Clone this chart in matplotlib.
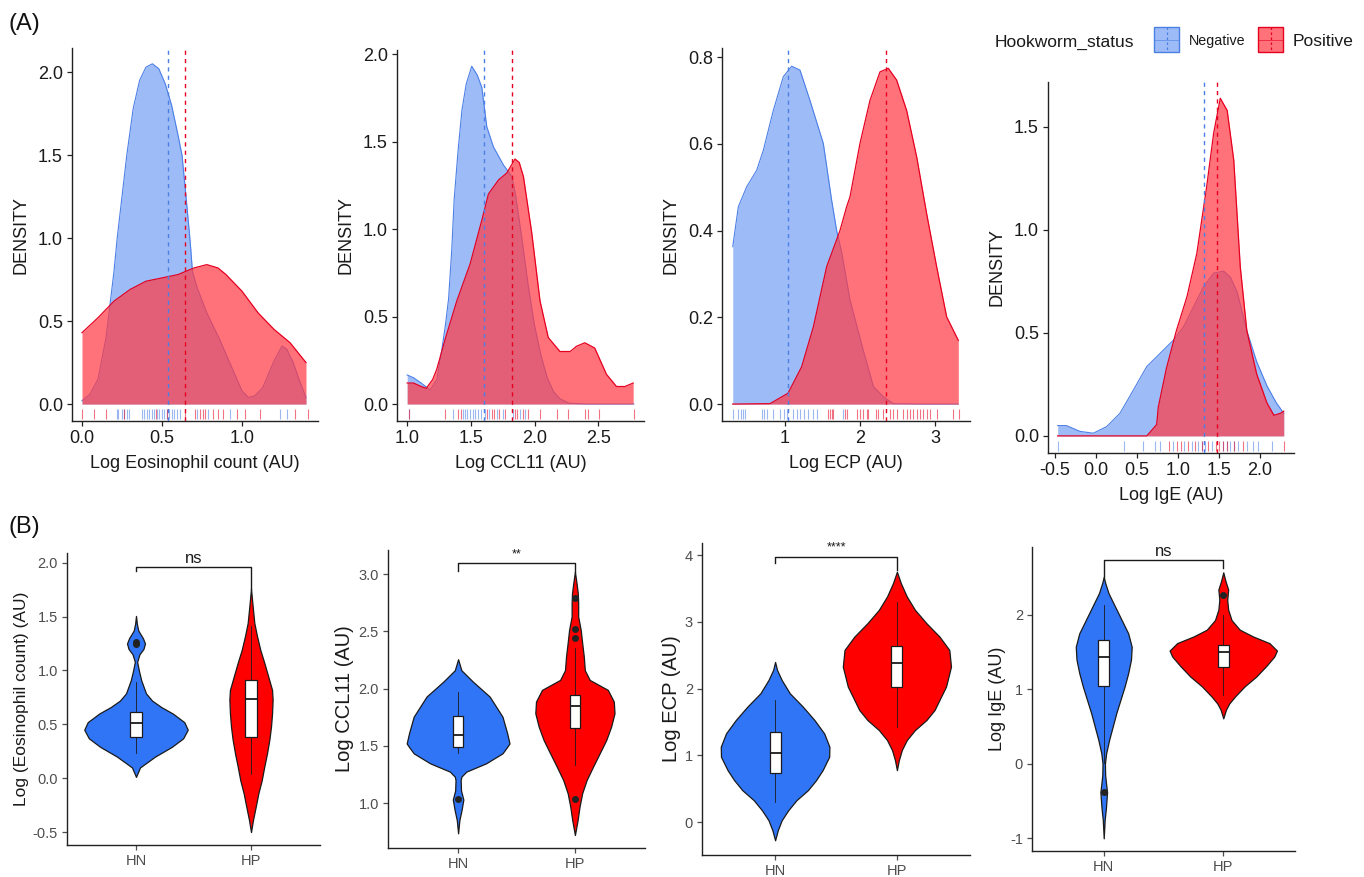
import matplotlib
matplotlib.use("Agg")
import matplotlib.pyplot as plt
from matplotlib.patches import Rectangle

plt.rcParams['font.family'] = ['Liberation Sans', 'DejaVu Sans']
plt.rcParams['axes.unicode_minus'] = False

# ---------------- (A) density curves ----------------
eos_neg_x = [0.0, 0.05, 0.1, 0.12, 0.15, 0.175, 0.2, 0.22, 0.25, 0.28, 0.32, 0.36, 0.40, 0.44, 0.48,
             0.52, 0.56, 0.60, 0.625, 0.65, 0.675, 0.68, 0.69, 0.72, 0.78, 0.86, 0.95, 1.0, 1.04,
             1.08, 1.13, 1.2, 1.25, 1.28, 1.32, 1.36, 1.40]
eos_neg_y = [0.02, 0.06, 0.15, 0.25, 0.40, 0.60, 0.80, 1.0, 1.25, 1.5, 1.78, 1.95, 2.03, 2.05, 2.02,
             1.93, 1.8, 1.62, 1.5, 1.25, 0.99, 0.93, 0.80, 0.70, 0.55, 0.39, 0.19, 0.08, 0.04,
             0.05, 0.10, 0.26, 0.35, 0.33, 0.25, 0.14, 0.04]
eos_pos_x = [0.0, 0.1, 0.2, 0.3, 0.4, 0.5, 0.6, 0.7, 0.78, 0.85, 0.9, 1.0, 1.1, 1.2, 1.3, 1.4]
eos_pos_y = [0.43, 0.52, 0.62, 0.69, 0.74, 0.76, 0.78, 0.82, 0.84, 0.82, 0.78, 0.68, 0.55, 0.45, 0.37, 0.25]
eos_means = [0.535, 0.645]
eos_rug_neg = [0.217, 0.227, 0.248, 0.263, 0.279, 0.296, 0.373, 0.388, 0.404, 0.42, 0.435, 0.45,
               0.467, 0.483, 0.498, 0.513, 0.529, 0.546, 0.56, 0.575, 0.592, 0.613, 0.72, 0.79,
               0.925, 1.237, 1.283]
eos_rug_pos = [0.002, 0.077, 0.15, 0.263, 0.46, 0.529, 0.644, 0.706, 0.737, 0.754, 0.769, 0.821,
               0.852, 0.883, 0.971, 1.019, 1.113, 1.331, 1.415]

ccl_neg_x = [1.0, 1.05, 1.11, 1.18, 1.233, 1.272, 1.30, 1.325, 1.35, 1.369, 1.40, 1.43, 1.464, 1.507,
             1.55, 1.586, 1.625, 1.677, 1.756, 1.822, 1.85, 1.9, 1.95, 2.0, 2.05, 2.1, 2.15, 2.2,
             2.27, 2.4, 2.6, 2.78]
ccl_neg_y = [0.166, 0.15, 0.12, 0.08, 0.14, 0.31, 0.45, 0.6, 0.88, 1.17, 1.45, 1.68, 1.83, 1.93,
             1.88, 1.81, 1.585, 1.47, 1.366, 1.30, 1.2, 0.95, 0.68, 0.45, 0.28, 0.15, 0.07, 0.03,
             0.005, 0.0, 0.0, 0.0]
ccl_pos_x = [1.0, 1.05, 1.11, 1.15, 1.2, 1.233, 1.298, 1.39, 1.494, 1.586, 1.638, 1.717, 1.782,
             1.847, 1.88, 1.913, 1.978, 2.043, 2.108, 2.2, 2.28, 2.33, 2.395, 2.473, 2.565, 2.644,
             2.71, 2.775]
ccl_pos_y = [0.12, 0.12, 0.10, 0.09, 0.14, 0.20, 0.37, 0.59, 0.80, 1.05, 1.20, 1.28, 1.32, 1.40,
             1.38, 1.30, 0.98, 0.59, 0.38, 0.30, 0.30, 0.33, 0.35, 0.32, 0.17, 0.10, 0.10, 0.12]
ccl_means = [1.606, 1.821]
ccl_rug_neg = [1.011, 1.363, 1.436, 1.455, 1.473, 1.494, 1.515, 1.533, 1.559, 1.577, 1.611, 1.646,
               1.703, 1.750, 1.829, 1.886, 1.925]
ccl_rug_pos = [1.011, 1.298, 1.402, 1.421, 1.630, 1.664, 1.682, 1.724, 1.768, 1.847, 1.865, 1.907,
               1.952, 2.043, 2.174, 2.265, 2.396, 2.422, 2.508, 2.780]

ecp_neg_x = [0.303, 0.378, 0.489, 0.622, 0.711, 0.844, 0.978, 1.089, 1.2, 1.333, 1.511, 1.622,
             1.689, 1.756, 1.867, 2.044, 2.18, 2.311, 2.444, 2.8, 3.31]
ecp_neg_y = [0.363, 0.455, 0.501, 0.539, 0.585, 0.677, 0.755, 0.779, 0.770, 0.70, 0.601, 0.47,
             0.40, 0.35, 0.24, 0.124, 0.04, 0.017, 0.001, 0.0, 0.0]
ecp_pos_x = [0.303, 0.8, 1.04, 1.222, 1.378, 1.556, 1.733, 1.822, 1.867, 2.0, 2.133, 2.267, 2.378,
             2.489, 2.622, 2.756, 2.889, 3.022, 3.156, 3.311]
ecp_pos_y = [0.0, 0.001, 0.025, 0.086, 0.178, 0.317, 0.40, 0.455, 0.478, 0.601, 0.70, 0.766, 0.774,
             0.747, 0.677, 0.570, 0.439, 0.317, 0.201, 0.147]
ecp_means = [1.044, 2.342]
ecp_rug_neg = [0.311, 0.378, 0.409, 0.444, 0.467, 0.689, 0.72, 0.756, 0.844, 0.933, 0.987, 1.022,
               1.102, 1.156, 1.2, 1.253, 1.311, 1.369, 1.422, 1.769]
ecp_rug_pos = [1.578, 1.6, 1.622, 1.644, 1.8, 1.822, 1.964, 2.0, 2.044, 2.089, 2.111, 2.213, 2.244,
               2.302, 2.4, 2.444, 2.489, 2.578, 2.622, 2.667, 2.711, 2.756, 2.8, 2.844, 2.889,
               2.933, 3.022, 3.244, 3.324]

ige_neg_x = [-0.467, -0.36, -0.196, -0.033, 0.13, 0.293, 0.457, 0.62, 0.783, 0.947, 1.07, 1.191,
             1.313, 1.435, 1.557, 1.64, 1.72, 1.84, 1.96, 2.085, 2.2, 2.29]
ige_neg_y = [0.05, 0.05, 0.022, 0.013, 0.045, 0.11, 0.223, 0.337, 0.401, 0.466, 0.531, 0.628,
             0.725, 0.79, 0.80, 0.77, 0.70, 0.51, 0.36, 0.243, 0.16, 0.11]
ige_pos_x = [-0.467, 0.5, 0.62, 0.74, 0.76, 0.86, 0.98, 1.11, 1.23, 1.35, 1.435, 1.516, 1.6, 1.68,
             1.76, 1.84, 1.96, 2.085, 2.17, 2.25, 2.29]
ige_pos_y = [0.0, 0.0, 0.0, 0.055, 0.14, 0.33, 0.51, 0.676, 0.886, 1.21, 1.469, 1.639, 1.58, 1.34,
             0.82, 0.51, 0.30, 0.16, 0.10, 0.11, 0.12]
ige_means = [1.317, 1.472]
ige_rug_neg = [-0.459, 0.345, 0.577, 0.72, 0.78, 0.943, 1.073, 1.167, 1.248, 1.289, 1.33, 1.41,
               1.553, 1.593, 1.634, 1.683, 1.736, 1.846, 1.911, 1.98, 2.143]
ige_rug_pos = [0.894, 0.984, 1.033, 1.126, 1.207, 1.289, 1.37, 1.463, 1.504, 1.553, 1.593, 1.683,
               1.789, 2.294]

# ---------------- (B) violin outlines (value, half width) and box stats ----------------
groups = ["HN", "HP"]

eos_hn_vy = [0.012, 0.10, 0.20, 0.29, 0.37, 0.45, 0.52, 0.60, 0.66, 0.72, 0.787, 0.91, 1.0, 1.08,
             1.15, 1.2, 1.25, 1.3, 1.37, 1.43, 1.506]
eos_hn_vw = [0, 0.035, 0.165, 0.31, 0.41, 0.45, 0.42, 0.32, 0.22, 0.14, 0.087, 0.045, 0.025, 0.01,
             0.03, 0.065, 0.078, 0.06, 0.02, 0.008, 0]
eos_hp_vy = [-0.50, -0.39, -0.27, -0.14, -0.02, 0.11, 0.23, 0.36, 0.48, 0.60, 0.73, 0.82, 0.94,
             1.07, 1.19, 1.32, 1.44, 1.60, 1.76]
eos_hp_vw = [0, 0.017, 0.04, 0.064, 0.093, 0.116, 0.139, 0.16, 0.174, 0.183, 0.188, 0.183, 0.151,
             0.116, 0.081, 0.052, 0.029, 0.014, 0]
eos_box = [(0.23, 0.384, 0.514, 0.61, 0.895, [1.25, 1.26]),
           (0.04, 0.384, 0.734, 0.91, 1.41, [])]

ccl_hn_vy = [0.735, 0.85, 0.94, 1.03, 1.11, 1.20, 1.23, 1.274, 1.347, 1.434, 1.49, 1.52, 1.61,
             1.754, 1.93, 2.06, 2.16, 2.256]
ccl_hn_vw = [0, 0.011, 0.03, 0.045, 0.025, 0.022, 0.028, 0.07, 0.24, 0.38, 0.42, 0.44, 0.42, 0.38,
             0.27, 0.127, 0.028, 0]
ccl_hp_vy = [0.72, 0.85, 0.97, 1.085, 1.20, 1.317, 1.434, 1.55, 1.667, 1.784, 1.886, 1.988, 2.075,
             2.16, 2.28, 2.40, 2.51, 2.63, 2.745, 2.83, 2.92, 3.02]
ccl_hp_vw = [0, 0.023, 0.04, 0.062, 0.1, 0.155, 0.212, 0.268, 0.31, 0.339, 0.333, 0.282, 0.127,
             0.085, 0.076, 0.062, 0.05, 0.028, 0.028, 0.025, 0.014, 0]
ccl_box = [(1.434, 1.49, 1.594, 1.76, 1.97, [1.035]),
           (1.33, 1.653, 1.85, 1.944, 2.35, [1.035, 2.44, 2.52, 2.79])]

ecp_hn_vy = [-0.27, -0.12, 0.03, 0.18, 0.33, 0.48, 0.63, 0.78, 0.98, 1.13, 1.33, 1.53, 1.73, 1.93,
             2.13, 2.28, 2.40]
ecp_hn_vw = [0, 0.022, 0.054, 0.108, 0.175, 0.269, 0.336, 0.39, 0.444, 0.446, 0.403, 0.323, 0.228,
             0.121, 0.054, 0.016, 0]
ecp_hp_vy = [0.78, 0.93, 1.08, 1.23, 1.38, 1.53, 1.68, 1.83, 2.03, 2.33, 2.58, 2.78, 2.98, 3.18,
             3.38, 3.58, 3.75]
ecp_hp_vw = [0, 0.016, 0.04, 0.081, 0.148, 0.242, 0.309, 0.349, 0.403, 0.444, 0.43, 0.349, 0.242,
             0.148, 0.081, 0.032, 0]
ecp_box = [(0.30, 0.73, 1.044, 1.353, 1.83, []),
           (1.43, 2.027, 2.377, 2.637, 3.30, [])]

ige_hn_vy = [-1.0, -0.75, -0.6, -0.45, -0.38, -0.3, -0.15, 0.0, 0.14, 0.32, 0.50, 0.68, 0.86, 1.04,
             1.22, 1.40, 1.57, 1.75, 1.93, 2.11, 2.29, 2.43, 2.51]
ige_hn_vw = [0, 0.008, 0.018, 0.025, 0.028, 0.022, 0.012, 0.01, 0.02, 0.045, 0.075, 0.105, 0.14,
             0.175, 0.205, 0.228, 0.234, 0.205, 0.15, 0.095, 0.04, 0.012, 0]
ige_hp_vy = [0.61, 0.725, 0.81, 0.90, 1.04, 1.17, 1.31, 1.44, 1.52, 1.62, 1.71, 1.80, 1.93, 2.07,
             2.20, 2.34, 2.45, 2.57]
ige_hp_vw = [0, 0.022, 0.05, 0.096, 0.179, 0.275, 0.358, 0.427, 0.449, 0.386, 0.248, 0.138, 0.069,
             0.041, 0.033, 0.041, 0.019, 0]
ige_box = [(0.01, 1.05, 1.427, 1.664, 2.134, [-0.38]),
           (0.926, 1.306, 1.503, 1.597, 2.0, [2.27])]

# significance brackets: (bar level, left tip, right tip, label, label level, label size)
eos_sig = (1.964, 1.92, 1.76, "ns", 2.04, 12)
ccl_sig = (3.095, 3.03, 3.02, "**", 3.17, 9)
ecp_sig = (3.975, 3.876, 3.78, "****", 4.11, 9)
ige_sig = (2.73, 2.51, 2.63, "ns", 2.85, 12)

NEG_FILL = "#3D7BF0"
NEG_LINE = "#4C7FE6"
POS_FILL = "#FF3C46"
POS_LINE = "#E60020"
NEG_ALPHA = 0.5
POS_ALPHA = 0.72
V_BLUE = "#2F75F6"
V_RED = "#FF0000"
GREY = "#4D4D4D"

W, H = 1364, 877
fig = plt.figure(figsize=(W / 100, H / 100), dpi=100)
fig.patch.set_facecolor("white")


def px_axes(x0, y0, x1, y1):
    return fig.add_axes([x0 / W, 1 - y1 / H, (x1 - x0) / W, (y1 - y0) / H])


def classic(ax, tick_color, label_color, size):
    for s in ("top", "right"):
        ax.spines[s].set_visible(False)
    for s in ("left", "bottom"):
        ax.spines[s].set_linewidth(1.0)
        ax.spines[s].set_color("#222222")
    ax.tick_params(length=3.5, width=0.9, color=tick_color, labelcolor=label_color,
                   labelsize=size, pad=3)
    ax.set_facecolor("none")


def density_panel(ax, nx, ny, px_, py_, means, rn, rp, xlim, ylim, xt, xtl, yt, ytl, xlabel):
    ax.fill_between(nx, ny, color=NEG_FILL, alpha=NEG_ALPHA, lw=0, zorder=1)
    ax.plot(nx, ny, color=NEG_LINE, lw=0.8, zorder=2)
    ax.fill_between(px_, py_, color=POS_FILL, alpha=POS_ALPHA, lw=0, zorder=3)
    ax.plot(px_, py_, color=POS_LINE, lw=0.9, zorder=4)
    tr = ax.get_xaxis_transform()
    ax.vlines(rn, 0.005, 0.033, transform=tr, colors=NEG_LINE, alpha=0.55, lw=0.8, zorder=5)
    ax.vlines(rp, 0.005, 0.033, transform=tr, colors=POS_LINE, alpha=0.55, lw=0.8, zorder=5)
    ax.axvline(means[0], color=NEG_LINE, ls=(0, (3, 3)), lw=1.0, zorder=6)
    ax.axvline(means[1], color=POS_LINE, ls=(0, (3, 3)), lw=1.0, zorder=6)
    ax.set_xlim(*xlim)
    ax.set_ylim(*ylim)
    ax.set_xticks(xt)
    ax.set_xticklabels(xtl)
    ax.set_yticks(yt)
    ax.set_yticklabels(ytl)
    classic(ax, "#222222", "#1A1A1A", 13)
    ax.set_xlabel(xlabel, fontsize=13, labelpad=6, color="#1A1A1A")
    ax.set_ylabel("DENSITY", fontsize=13, labelpad=6, color="#1A1A1A")


def violin_panel(ax, profiles, boxes, sig, ylim, yt, ytl, ylabel, ylab_size, bw):
    for i, ((vy, vw), color) in enumerate(zip(profiles, (V_BLUE, V_RED))):
        pos = i + 1
        left = [pos - w for w in vw]
        right = [pos + w for w in vw]
        ax.fill_betweenx(vy, left, right, facecolor=color, edgecolor="#1A1A1A", lw=0.9, zorder=1)
    stats = []
    for name, (lo, q1, med, q3, hi, fl) in zip(groups, boxes):
        stats.append(dict(label=name, whislo=lo, q1=q1, med=med, q3=q3, whishi=hi, fliers=fl))
    ax.bxp(stats, positions=[1, 2], widths=bw, patch_artist=True, showcaps=False,
           boxprops=dict(facecolor="white", edgecolor="#1A1A1A", lw=0.9),
           medianprops=dict(color="#1A1A1A", lw=1.3),
           whiskerprops=dict(color="#1A1A1A", lw=0.6),
           flierprops=dict(marker="o", markerfacecolor="#222222", markeredgecolor="#222222",
                           markersize=4), zorder=3)
    yb, tl, tr_, lab, ly, ls = sig
    ax.plot([1, 1, 2, 2], [tl, yb, yb, tr_], color="#1A1A1A", lw=1.0, zorder=4, clip_on=False)
    ax.text(1.5, ly, lab, ha="center", va="center", fontsize=ls, color="#1A1A1A")
    ax.set_xlim(0.4, 2.6)
    ax.set_ylim(*ylim)
    ax.set_xticks([1, 2])
    ax.set_xticklabels(groups)
    ax.set_yticks(yt)
    ax.set_yticklabels(ytl)
    classic(ax, GREY, GREY, 10.5)
    ax.set_ylabel(ylabel, fontsize=ylab_size, labelpad=3, color="#1A1A1A")


# ---------------- top row ----------------
a1 = px_axes(72, 48, 318, 421)
density_panel(a1, eos_neg_x, eos_neg_y, eos_pos_x, eos_pos_y, eos_means, eos_rug_neg, eos_rug_pos,
              (-0.0625, 1.475), (-0.102, 2.145), [0, 0.5, 1.0], ["0.0", "0.5", "1.0"],
              [0, 0.5, 1.0, 1.5, 2.0], ["0.0", "0.5", "1.0", "1.5", "2.0"],
              "Log Eosinophil count (AU)")

a2 = px_axes(397, 50, 644, 421)
density_panel(a2, ccl_neg_x, ccl_neg_y, ccl_pos_x, ccl_pos_y, ccl_means, ccl_rug_neg, ccl_rug_pos,
              (0.92, 2.86), (-0.097, 2.023), [1.0, 1.5, 2.0, 2.5], ["1.0", "1.5", "2.0", "2.5"],
              [0, 0.5, 1.0, 1.5, 2.0], ["0.0", "0.5", "1.0", "1.5", "2.0"], "Log CCL11 (AU)")

a3 = px_axes(722, 48, 970, 421)
density_panel(a3, ecp_neg_x, ecp_neg_y, ecp_pos_x, ecp_pos_y, ecp_means, ecp_rug_neg, ecp_rug_pos,
              (0.16, 3.467), (-0.039, 0.821), [1, 2, 3], ["1", "2", "3"],
              [0, 0.2, 0.4, 0.6, 0.8], ["0.0", "0.2", "0.4", "0.6", "0.8"], "Log ECP (AU)")

a4 = px_axes(1048, 82, 1294, 453)
density_panel(a4, ige_neg_x, ige_neg_y, ige_pos_x, ige_pos_y, ige_means, ige_rug_neg, ige_rug_pos,
              (-0.585, 2.415), (-0.083, 1.718), [-0.5, 0, 0.5, 1.0, 1.5, 2.0],
              ["-0.5", "0.0", "0.5", "1.0", "1.5", "2.0"],
              [0, 0.5, 1.0, 1.5], ["0.0", "0.5", "1.0", "1.5"], "Log IgE (AU)")

# ---------------- bottom row ----------------
b1 = px_axes(67, 553, 320, 845)
violin_panel(b1, [(eos_hn_vy, eos_hn_vw), (eos_hp_vy, eos_hp_vw)], eos_box, eos_sig,
             (-0.62, 2.09), [-0.5, 0, 0.5, 1.0, 1.5, 2.0],
             ["-0.5", "0.0", "0.5", "1.0", "1.5", "2.0"], "Log (Eosinophil count) (AU)", 12.5, 0.1)

b2 = px_axes(388, 550, 645, 848)
violin_panel(b2, [(ccl_hn_vy, ccl_hn_vw), (ccl_hp_vy, ccl_hp_vw)], ccl_box, ccl_sig,
             (0.607, 3.21), [1.0, 1.5, 2.0, 2.5, 3.0], ["1.0", "1.5", "2.0", "2.5", "3.0"],
             "Log CCL11 (AU)", 14.5, 0.09)

b3 = px_axes(702, 543, 970, 855)
violin_panel(b3, [(ecp_hn_vy, ecp_hn_vw), (ecp_hp_vy, ecp_hp_vw)], ecp_box, ecp_sig,
             (-0.49, 4.18), [0, 1, 2, 3, 4], ["0", "1", "2", "3", "4"], "Log ECP (AU)", 14.5, 0.09)

b4 = px_axes(1032, 547, 1295, 851)
violin_panel(b4, [(ige_hn_vy, ige_hn_vw), (ige_hp_vy, ige_hp_vw)], ige_box, ige_sig,
             (-1.17, 2.91), [-1, 0, 1, 2], ["-1", "0", "1", "2"], "Log IgE (AU)", 13, 0.095)

# ---------------- overlay: panel letters and legend ----------------
ov = fig.add_axes([0, 0, 1, 1])
ov.set_xlim(0, W)
ov.set_ylim(H, 0)
ov.axis("off")
ov.text(8, 24, "(A)", fontsize=17, ha="left", va="center", color="#111111")
ov.text(8, 527, "(B)", fontsize=17, ha="left", va="center", color="#111111")

ov.text(995, 42, "Hookworm_status", fontsize=12.5, ha="left", va="center", color="#1A1A1A")
for x0, fill, line, alpha, lab, size in ((1154, NEG_FILL, NEG_LINE, NEG_ALPHA, "Negative", 10.3),
                                         (1258, POS_FILL, POS_LINE, POS_ALPHA, "Positive", 12.5)):
    ov.add_patch(Rectangle((x0, 27), 25, 25, facecolor=fill, alpha=alpha, lw=0))
    ov.add_patch(Rectangle((x0, 27), 25, 25, facecolor="none", edgecolor=line, lw=1.0))
    ov.plot([x0 + 12.5, x0 + 12.5], [27, 52], color=line, lw=0.9, ls=(0, (2, 2)))
    ov.plot([x0, x0 + 25], [39.5, 39.5], color=line, lw=0.6, alpha=0.7)
    ov.text(x0 + 35, 41, lab, fontsize=size, ha="left", va="center", color="#1A1A1A")

fig.savefig("out.png", dpi=100, facecolor="white")
